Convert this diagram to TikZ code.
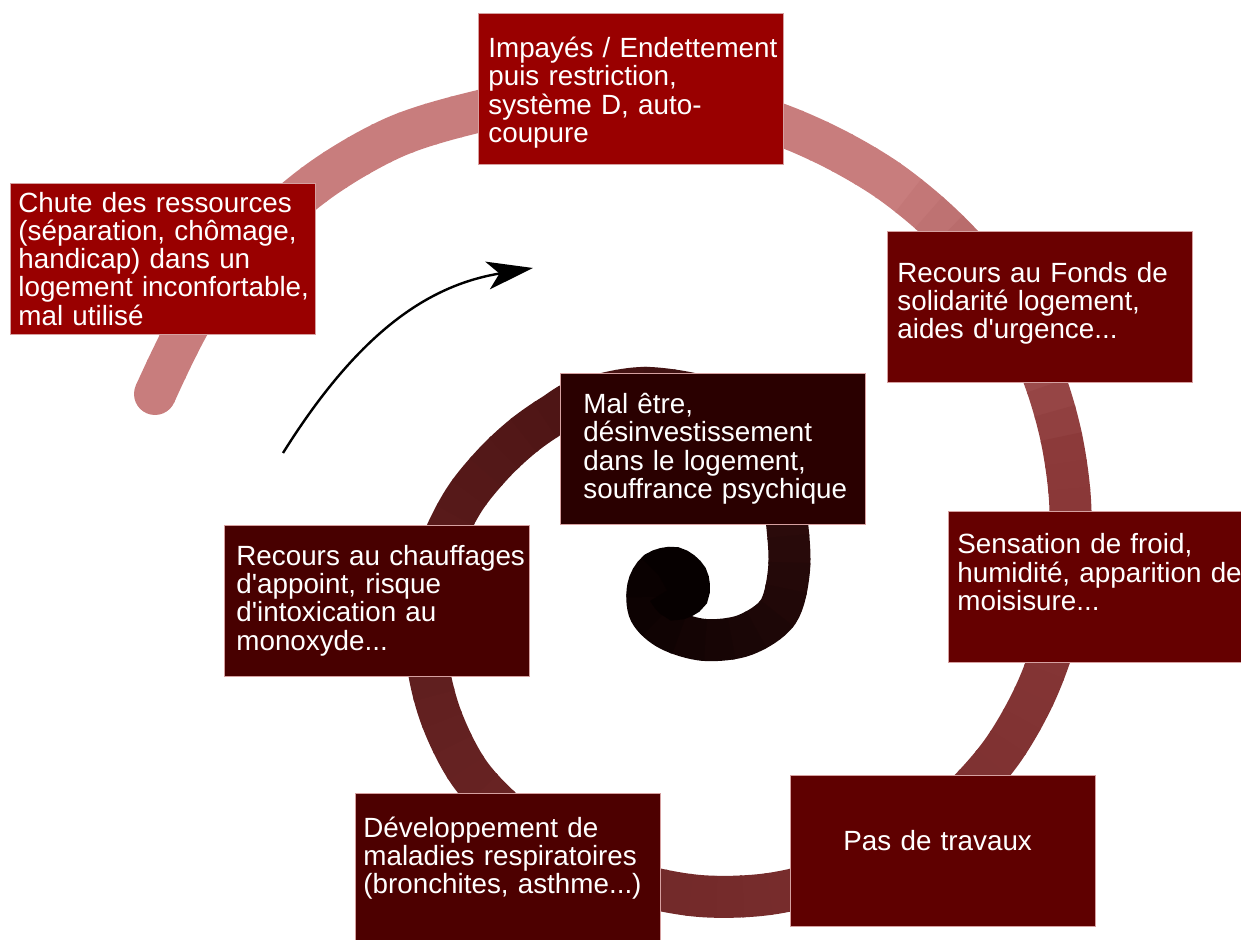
\documentclass[tikz,border=0pt]{standalone}
\usepackage{fontspec}
\setmainfont{Liberation Sans}
\usetikzlibrary{arrows.meta}

\definecolor{boxA}{RGB}{153,0,0}
\definecolor{boxB}{RGB}{106,0,0}
\definecolor{boxC}{RGB}{101,0,0}
\definecolor{boxD}{RGB}{95,0,0}
\definecolor{boxE}{RGB}{77,0,0}
\definecolor{boxF}{RGB}{72,0,0}
\definecolor{boxG}{RGB}{42,0,0}
\definecolor{boxline}{RGB}{214,160,160}
\definecolor{spirA}{RGB}{200,125,125}

\newcommand\apos{\textquotesingle}
% colour of the spiral at fraction #1 of its length, from pink to black
\newcommand\spiralcolour[1]{%
  \pgfmathsetmacro\sfr{#1}%
  \pgfmathtruncatemacro\sred{max(0,(\sfr<0.28 ? 200 : (\sfr<0.38 ? 200-600*(\sfr-0.28) : (\sfr<0.6 ? 140-113.6*(\sfr-0.38) : (\sfr<0.8 ? 115-175*(\sfr-0.6) : (\sfr<0.9 ? 80-350*(\sfr-0.8) : 45-400*(\sfr-0.9)))))))}%
  \pgfmathtruncatemacro\sgrn{max(0,(\sfr<0.28 ? 125 : (\sfr<0.38 ? 125-670*(\sfr-0.28) : (\sfr<0.6 ? 58-72.7*(\sfr-0.38) : (\sfr<0.8 ? 42-100*(\sfr-0.6) : (\sfr<0.9 ? 22-100*(\sfr-0.8) : 12-120*(\sfr-0.9)))))))}%
  \definecolor{spiralc}{RGB}{\sred,\sgrn,\sgrn}%
}

\begin{document}
\begin{tikzpicture}[
    x=0.5pt, y=-0.5pt,
    box/.style={rectangle, draw=boxline, line width=0.4pt, fill=#1, text=white, anchor=north west,
        inner sep=0pt, minimum width=152.5pt, minimum height=75.5pt, text width=152.5pt, align=left,
        font=\fontsize{13.9}{14.15}\selectfont, text height=0pt},
    lpad/.style={execute at begin node={\leftskip=#1\rightskip=-20pt plus 1fil\relax}},
    arrow/.style={-{Stealth[length=23pt,width=14pt,inset=6pt]}, line width=1.2pt},
    spiral/.style={line width=21pt, draw=spiralc}
]
\useasboundingbox (0,0) rectangle (1241,940);
\clip (0,0) rectangle (1241,940);

% Spiral, drawn piece by piece with dashes
\fill[spirA] (155,394) circle (10.5pt);
\foreach \i in {0,...,119} {
  \spiralcolour{(\i+0.5)/120}
  \pgfmathsetmacro\don{\i==119 ? 400 : 14.4}
  \pgfmathsetmacro\dph{4000+\don-\i*13.25}
  \path[spiral, dash pattern=on \don pt off 4000pt, dash phase=\dph pt]
    plot[smooth, tension=0.55] coordinates {
    (155,394) (194,316) (251,241) (319,181) (395,137) (476,112) (554,98) (629,96)
    (700,104) (767,120) (829,146) (886,179) (936,219) (980,265) (1016,318)
    (1043,375) (1061,436) (1070,500) (1069,565) (1058,630) (1035,694) (1001,753)
    (955,804) (900,846) (837,877) (769,894) (700,896) (633,883) (570,857)
    (515,820) (470,774) (441,717) (427,658) (428,599) (441,546) (464,500)
    (493,464) (523,436) (553,415) (581,400) (650,388) (735,408) (778,462)
    (787,523) (789,570) (778,612) (745,635) (705,640) (670,630) (650,612)
    (648,588) (657,572) (674,568) (687,578) (688,593) (676,599) (668,590)};
}

% Boxes
\node[box=boxA, lpad=4pt, text depth=46.8pt] (chute) at (10,183)
    {Chute des ressources\\(séparation, chômage,\\handicap) dans un\\logement inconfortable,\\mal utilisé};
\node[box=boxA, lpad=5pt, text depth=31.2pt] (impayes) at (478,13)
    {Impayés / Endettement\\puis restriction,\\système D, auto-\\coupure};
\node[box=boxB, lpad=5pt, text depth=24.8pt] (fonds) at (887,231)
    {Recours au Fonds de\\solidarité logement,\\aides d\apos urgence...};
\node[box=boxC, lpad=4.5pt, text depth=33.2pt] (froid) at (948,511)
    {Sensation de froid,\\humidité, apparition de\\moisisure...};
\node[box=boxD, lpad=26.5pt, text depth=0pt] (travaux) at (790,775)
    {Pas de travaux};
\node[box=boxE, lpad=4pt, text depth=31.8pt] (maladies) at (355,793)
    {Développement de\\maladies respiratoires\\(bronchites, asthme...)};
\node[box=boxF, lpad=6pt, text depth=35.5pt] (chauffage) at (224,525)
    {Recours au chauffages\\d\apos appoint, risque\\d\apos intoxication au\\monoxyde...};
\node[box=boxG, lpad=11.5pt, text depth=35.2pt] (maletre) at (560,373)
    {Mal être,\\désinvestissement\\dans le logement,\\souffrance psychique};

% Arrow
\coordinate (arrS) at (283,453);
\coordinate (arrE) at (533,268);
\draw[arrow] (arrS) .. controls (360,330) and (430,285) .. (arrE);

\end{tikzpicture}
\end{document}
